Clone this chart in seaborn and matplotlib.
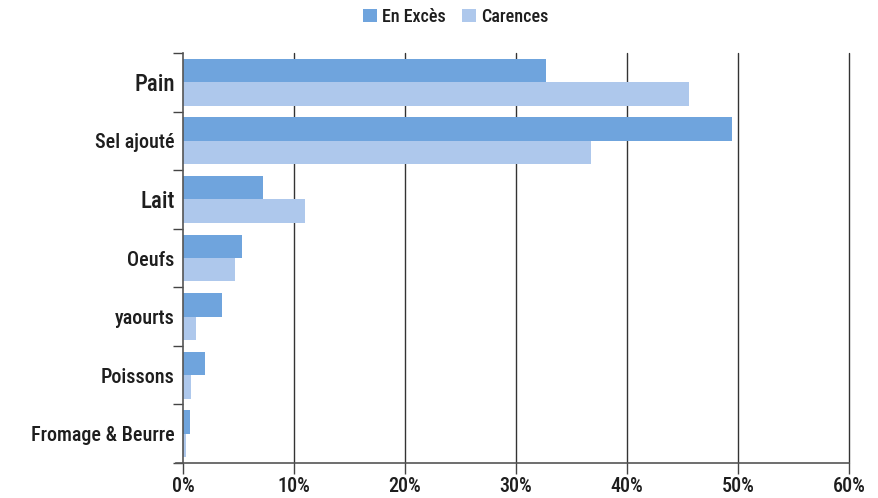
import matplotlib
matplotlib.use("Agg")
import matplotlib.pyplot as plt
import matplotlib.ticker as mticker
import seaborn as sns
import pandas as pd
import numpy as np

categories = ["Pain", "Sel ajouté", "Lait", "Oeufs", "yaourts", "Poissons", "Fromage & Beurre"]
series = ["En Excès", "Carences"]
exces = [32.7, 49.5, 7.2, 5.3, 3.5, 1.95, 0.6]
carences = [45.6, 36.8, 11.0, 4.7, 1.15, 0.7, 0.3]
xticks = [0, 10, 20, 30, 40, 50, 60]
colors = ["#6FA4DD", "#AEC8EC"]

sns.set_style("white")
plt.rcParams["font.family"] = ["Roboto Condensed", "Roboto", "DejaVu Sans"]
plt.rcParams["font.weight"] = "medium"

df = pd.DataFrame({
    "categorie": categories * 2,
    "valeur": exces + carences,
    "serie": [series[0]] * len(categories) + [series[1]] * len(categories),
})

fig = plt.figure(figsize=(8.79, 4.98), dpi=100)
ax = fig.add_axes([183 / 879, 1 - 463 / 498, (849 - 183) / 879, (463 - 53) / 498])

sns.barplot(data=df, y="categorie", x="valeur", hue="serie", order=categories,
            hue_order=series, palette=colors, saturation=1, width=0.8,
            orient="h", ax=ax, legend=True, linewidth=0)

ax.set_xlim(0, 60)
ax.set_ylim(len(categories) - 0.5, -0.5)
ax.set_xticks(xticks)
ax.xaxis.set_major_formatter(mticker.FuncFormatter(lambda v, p: f"{v:.0f}%"))
ax.set_xlabel("")
ax.set_ylabel("")

# vertical gridlines
for v in xticks[1:]:
    ax.axvline(v, color="#333333", lw=1.0, zorder=0, clip_on=False)

# category separators on the y axis
ax.set_yticks(np.arange(len(categories)))
ax.set_yticks(np.arange(-0.5, len(categories)), minor=True)
ax.tick_params(axis="y", which="major", left=False, length=0, pad=6)
ax.tick_params(axis="y", which="minor", left=True, length=7, width=1, color="#444444", direction="out")
ax.tick_params(axis="x", which="major", bottom=True, length=8, width=1, color="#444444",
               direction="out", labelsize=14.5, pad=2, labelcolor="#1e1e1e")

for lab in ax.get_yticklabels():
    txt = lab.get_text()
    lab.set_fontsize(16.5 if txt in ("Pain", "Lait") else 14.5)
    lab.set_color("#1e1e1e")

sns.despine(ax=ax, top=True, right=True)
for s in ("left", "bottom"):
    ax.spines[s].set_color("#555555")
    ax.spines[s].set_linewidth(1.2)
ax.spines["bottom"].set_bounds(-0.6, 60)

leg = ax.legend(loc="center", bbox_to_anchor=(456 / 879, 1 - 17 / 498),
                bbox_transform=fig.transFigure, ncol=2, frameon=False,
                handlelength=0.75, handleheight=0.75, handletextpad=0.3, columnspacing=0.9,
                fontsize=13, borderaxespad=0)
for t in leg.get_texts():
    t.set_color("#1e1e1e")

fig.savefig("out.png", dpi=100)
